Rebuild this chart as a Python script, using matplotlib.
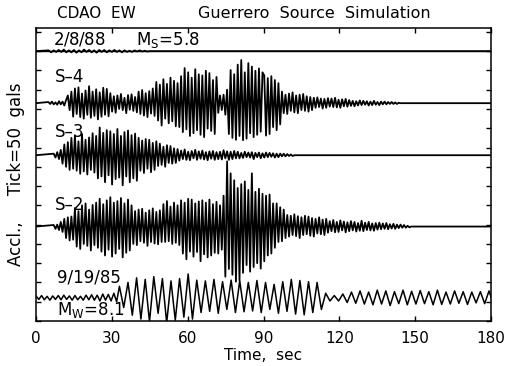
import numpy as np
import matplotlib
matplotlib.use("Agg")
import matplotlib.pyplot as plt

# time axis (sec) and accel axis (gals, one tick = 50 gals)
t_ticks = [0, 30, 60, 90, 120, 150, 180]
y_ticks = list(range(0, 751, 50))

# baselines of each trace on the shared accel axis (gals)
base_2888 = 700
base_s4 = 565
base_s3 = 430
base_s2 = 245
base_91985 = 60

# 2/8/88 Ms=5.8 record, peaks every 1.0 s from 5 s
t0_2888, dt_2888 = 5.0, 1.0
acc_2888 = [2, -3, 2, -2, 3, -2, 4, -3, 2, -3, 3, -4, 2, -3, 4, -2, 3, -3, 2, -4,
            3, -2, 3, -3, 2, -2, 3, -2, 2, -3, 2, -2, 1, -2, 2, -1, 2, -1, 1, -1]

# S-4 simulation, peaks every 0.7 s from 4.9 s
t0_s4, dt_s4 = 4.9, 0.7
acc_s4 = [3, -2, 4, -3, 2, -4, 5, -3, 4, -6, 8,
          20, -18, 30,
          -35, 38, -28, 41, -36, 25, -40, 33, -30, 44, -38, 30, -33, 36, -42, 28,
          -35, 40, -30, 37, -34, 26,
          -22, 18, -25, 20, -15, 24, -18, 14, -26, 21, -17, 23, -20, 16, -24,
          30, -28, 34, -32, 26, -36, 31, -27, 38, -33,
          55, -45, 48, -58, 62, -40, 50, -52, 66, -47, 58, -60, 52, -62,
          70, -75, 91, -68, 80, -85, 66, -78, 88, -70, 75, -82, 72, -88, 84, -66,
          78, -72, 60, -80, 68,
          -25, 20, -18, 22, -30, 35,
          -80, 86, -90, 75, -95, 100, -85, 112, -96, 80, -92, 104, -78, 95, -88,
          84, -82, 90, -74, 80,
          72, -84, 65, -80, 70, -62, 60, -70, 52, -55,
          30, -26, 22, -28, 25, -20, 28, -24, 20, -26, 22, -18, 24, -20, 18, -22,
          16, -18,
          14, -12, 15, -10, 12, -14, 11, -12, 13, -9, 12, -10, 14, -11, 9, -12,
          10, -8, 11, -9, 8,
          -7, 6, -8, 5, -6, 7, -5, 6, -4, 5, -6, 4, -5, 6, -4, 3, -5, 4, -3, 4,
          -3, 3, -2, 3, -2, 2, -2, 1]

# S-3 simulation, peaks every 0.7 s from 7 s
t0_s3, dt_s3 = 7.0, 0.7
acc_s3 = [4, -6, 8, -10, 14,
          -22, 28, -30, 34,
          -38, 45, -35, 52, -40, 36, -48, 55, -42, 40, -50, 46, -38, 57, -45, 50,
          -60, 72, -55, 58, -70, 65, -52, 62, -76, 55, -62, 68, -58, 50, -78, 60,
          -55, 64, -70, 52, -60, 56, -66,
          45, -40, 38, -46, 42, -35, 40, -44, 32, -38, 36,
          -28, 30, -25, 22, -30, 26, -20, 24, -22, 18, -20, 16,
          -14, 12, -10, 15, -12, 9, -13, 11, -8, 14, -12, 10, -9, 12, -11, 8,
          -13, 10, -9, 11, -12, 8, -10, 9, -11, 13, -8, 10, -12, 9, -10, 11, -8, 9,
          -8, 6, -7, 9, -5, 7, -6, 8, -10, 6, -5, 7, -8, 5, -6, 7, -5, 6, -4, 5,
          -6, 4, -5, 4, -3, 4, -3, 3, -2, 2, -2]

# S-2 simulation, peaks every 0.7 s from 7 s
t0_s2, dt_s2 = 7.0, 0.7
acc_s2 = [4, -6, 5, -9, 12, -14,
          20, -30, 24, -36, 26, -34,
          48, -52, 40, -58, 55, -45, 60, -50, 44, -62, 56, -48, 62, -55,
          72, -65, 58, -75, 68, -60, 76, -78, 62, -70, 66, -58, 74, -80, 60, -68,
          70, -62, 55,
          -45, 40, -48, 44, -38, 46, -42, 36, -50, 42, -40, 47, -44, 38, -46, 42, -40,
          58, -40, 66, -38, 52, -45, 62, -42, 55, -48,
          68, -70, 62, -85, 72, -65, 70, -78, 60, -66, 65, -90, 68, -72, 62, -80,
          70, -75, 58, -68, 64,
          -70, 55, -60, 80, -130, 169, -110, 138, -125, 120, -143, 100, -140, 110,
          -120, 117, -100, 95, -117, 138, -105, 90, -95, 98, -109, 85, -90, 80,
          -75, 83, -70, 60, -55, 60, -40, 50, -38, 44, -30,
          30, -26, 28, -22, 32, -25, 27, -30, 24, -22, 28, -20, 26, -24, 22, -26,
          20, -18, 24, -20, 18, -22, 20,
          -16, 14, -12, 17, -15, 12, -14, 16, -10, 13, -15, 11, -12, 14, -10, 12,
          -13, 9, -11, 15, -12, 10, -9, 12, -10, 8, -11, 9, -8, 10, -7, 8, -6, 9,
          -7, 6, -5, 7, -6, 5, -4, 5, -3, 4, -3, 2, -2]

# 9/19/85 Mw=8.1 record: early part peaks every 1.1 s, main part every 1.7 s
t0_early, dt_early = 0.0, 1.1
acc_early = [5, -4, 6, -5, 4, -6, 5, -4, 6, -5, 7, -4, 5, -6, 6, -5, 4, -6, 7, -5,
             8, -6, 7, -8, 10, -6, 9, -8, 12, -10]
t0_main, dt_main = 33.0, 1.7
acc_main = [30, -25, 40, -45, 52, -55, 48, -62, 55, -40, 50, -65, 44, -58, 50, -50,
            62, -55, 46, -38, 44, -35, 48, -40, 42, -30, 46, -38, 44, -36, 40, -34,
            45, -38, 40, -30, 35, -40, 42, -35, 48, -42, 45, -44, 42, -38, 40, -30,
            12, -8, 6, -8, 10, -12, 15, -14, 18, -16,
            15, -18, 20, -16, 18, -20, 16, -15, 20, -18, 17, -16, 19, -15, 16, -18,
            20, -17, 15, -16, 18, -14, 16, -17, 15, -13, 16, -15, 18, -14]


def trace(t0, dt, vals, base):
    t = t0 + dt * np.arange(len(vals))
    x = np.concatenate([[0.0], t, [t[-1] + dt, 180.0]])
    y = np.concatenate([[0.0], vals, [0.0, 0.0]]) + base
    return x, y


fig = plt.figure(figsize=(5.1, 3.66), dpi=100)
ax = fig.add_axes([36 / 510, 45 / 366, 455 / 510, 293 / 366])

lw = 1.3
for t0, dt, vals, base in [(t0_2888, dt_2888, acc_2888, base_2888),
                           (t0_s4, dt_s4, acc_s4, base_s4),
                           (t0_s3, dt_s3, acc_s3, base_s3),
                           (t0_s2, dt_s2, acc_s2, base_s2)]:
    x, y = trace(t0, dt, vals, base)
    ax.plot(x, y, color="black", lw=lw)

# 9/19/85 record in two pieces
t_e = t0_early + dt_early * np.arange(len(acc_early))
t_m = t0_main + dt_main * np.arange(len(acc_main))
ax.plot(np.concatenate([t_e, t_m]),
        np.concatenate([acc_early, acc_main]) + base_91985,
        color="black", lw=1.1)

# divider line under the 2/8/88 panel
ax.axhline(base_2888, color="black", lw=1.0)

ax.set_xticks(t_ticks)
ax.set_yticks(y_ticks)
ax.set_xlim(0, 180)
ax.set_ylim(0, 760)
ax.tick_params(direction="in", length=3.5, width=1.0, top=True, right=True,
               labelleft=False, labelsize=11, pad=7)
for s in ax.spines.values():
    s.set_linewidth(1.1)

ax.set_xlabel("Time,  sec", fontsize=11, labelpad=2)
ax.set_ylabel("Accl.,     Tick=50  gals", fontsize=12, labelpad=8)

fig.text(57 / 510, 1 - 14 / 366, "CDAO  EW", fontsize=11, va="center")
fig.text(198 / 510, 1 - 14 / 366, "Guerrero  Source  Simulation", fontsize=11.5,
         va="center")

ax.text(0.037, 0.959, "2/8/88      M$_\\mathregular{S}$=5.8", transform=ax.transAxes,
        fontsize=12, va="center")
ax.text(0.042, 0.833, "S\u20134", transform=ax.transAxes, fontsize=12, va="center")
ax.text(0.042, 0.645, "S\u20133", transform=ax.transAxes, fontsize=12, va="center")
ax.text(0.042, 0.396, "S\u20132", transform=ax.transAxes, fontsize=12, va="center")
ax.text(0.046, 0.147, "9/19/85", transform=ax.transAxes, fontsize=12, va="center")
ax.text(0.046, 0.038, "M$_\\mathregular{W}$=8.1", transform=ax.transAxes,
        fontsize=12, va="center")

fig.savefig("out.png", dpi=100)
